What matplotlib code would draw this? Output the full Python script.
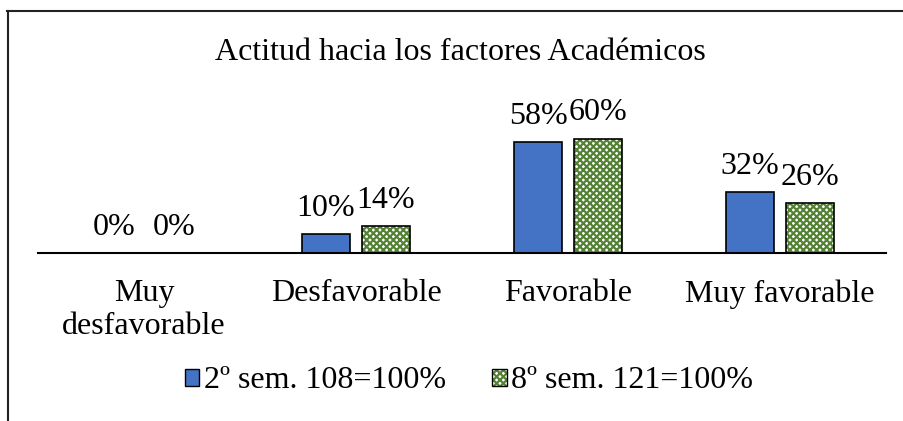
import matplotlib.pyplot as plt
from matplotlib.patches import Patch
from matplotlib.lines import Line2D
from matplotlib.legend_handler import HandlerTuple
import numpy as np

plt.rcParams['font.family'] = ['Liberation Serif', 'DejaVu Serif']
plt.rcParams['hatch.linewidth'] = 1.6

categories = ["Muy\ndesfavorable", "Desfavorable", "Favorable", "Muy favorable"]
sem2 = [0.00, 0.10, 0.58, 0.32]
sem8 = [0.00, 0.14, 0.60, 0.26]
series_names = ["2º sem. 108=100%", "8º sem. 121=100%"]

blue = "#4472C4"
green = "#548235"
fs = 23

fig = plt.figure(figsize=(9.04, 4.21), dpi=100)
W, H = 904, 421
ax = fig.add_axes([38 / W, (421 - 253) / H, 848 / W, 143 / H])

x = np.arange(len(categories))
w = 0.222
off = 0.1415

b1 = ax.bar(x - off, sem2, w, color=blue, edgecolor="black", linewidth=1.2)
# hatched bars: green pattern first, black outline on top
ax.bar(x + off, sem8, w, color="white", edgecolor=green, hatch="xxxxx", linewidth=0)
b2 = ax.bar(x + off, sem8, w, fill=False, edgecolor="black", linewidth=1.2)

for bars, vals in ((b1, sem2), (b2, sem8)):
    for r, v in zip(bars, vals):
        ax.annotate(f"{v:.0%}", (r.get_x() + r.get_width() / 2, v),
                    xytext=(0, 8), textcoords="offset points",
                    ha="center", va="bottom", fontsize=fs)

ax.set_xlim(-0.5, 3.5)
ax.set_ylim(0, 0.75)
ax.set_xticks(x)
ax.set_xticklabels(categories, fontsize=fs, linespacing=1.17)
ax.tick_params(axis="x", length=0, pad=19)
ax.set_yticks([])
for s in ("left", "right", "top"):
    ax.spines[s].set_visible(False)
ax.spines["bottom"].set_linewidth(1.5)

fig.text(460 / W, 1 - 60 / H, "Actitud hacia los factores Académicos",
         ha="center", va="baseline", fontsize=fs)

h1 = Patch(facecolor=blue, edgecolor="black", linewidth=1)
h2a = Patch(facecolor="white", edgecolor=green, hatch="xxxxx", linewidth=0)
h2b = Patch(fill=False, edgecolor="black", linewidth=1)
fig.legend([h1, (h2a, h2b)], series_names, loc="center",
           bbox_to_anchor=(469 / W, 1 - 381 / H), ncol=2, frameon=False,
           fontsize=fs, handlelength=0.45, handleheight=0.45, handletextpad=0.15,
           columnspacing=1.45, handler_map={tuple: HandlerTuple(ndivide=1, pad=0)})

# outer chart frame
fig.add_artist(Line2D([7 / W, 1], [1 - 11 / H] * 2, color="#222222", lw=1.5))
fig.add_artist(Line2D([8 / W] * 2, [1 - 11 / H, 0], color="#222222", lw=1.5))

fig.savefig("out.png", dpi=100)
